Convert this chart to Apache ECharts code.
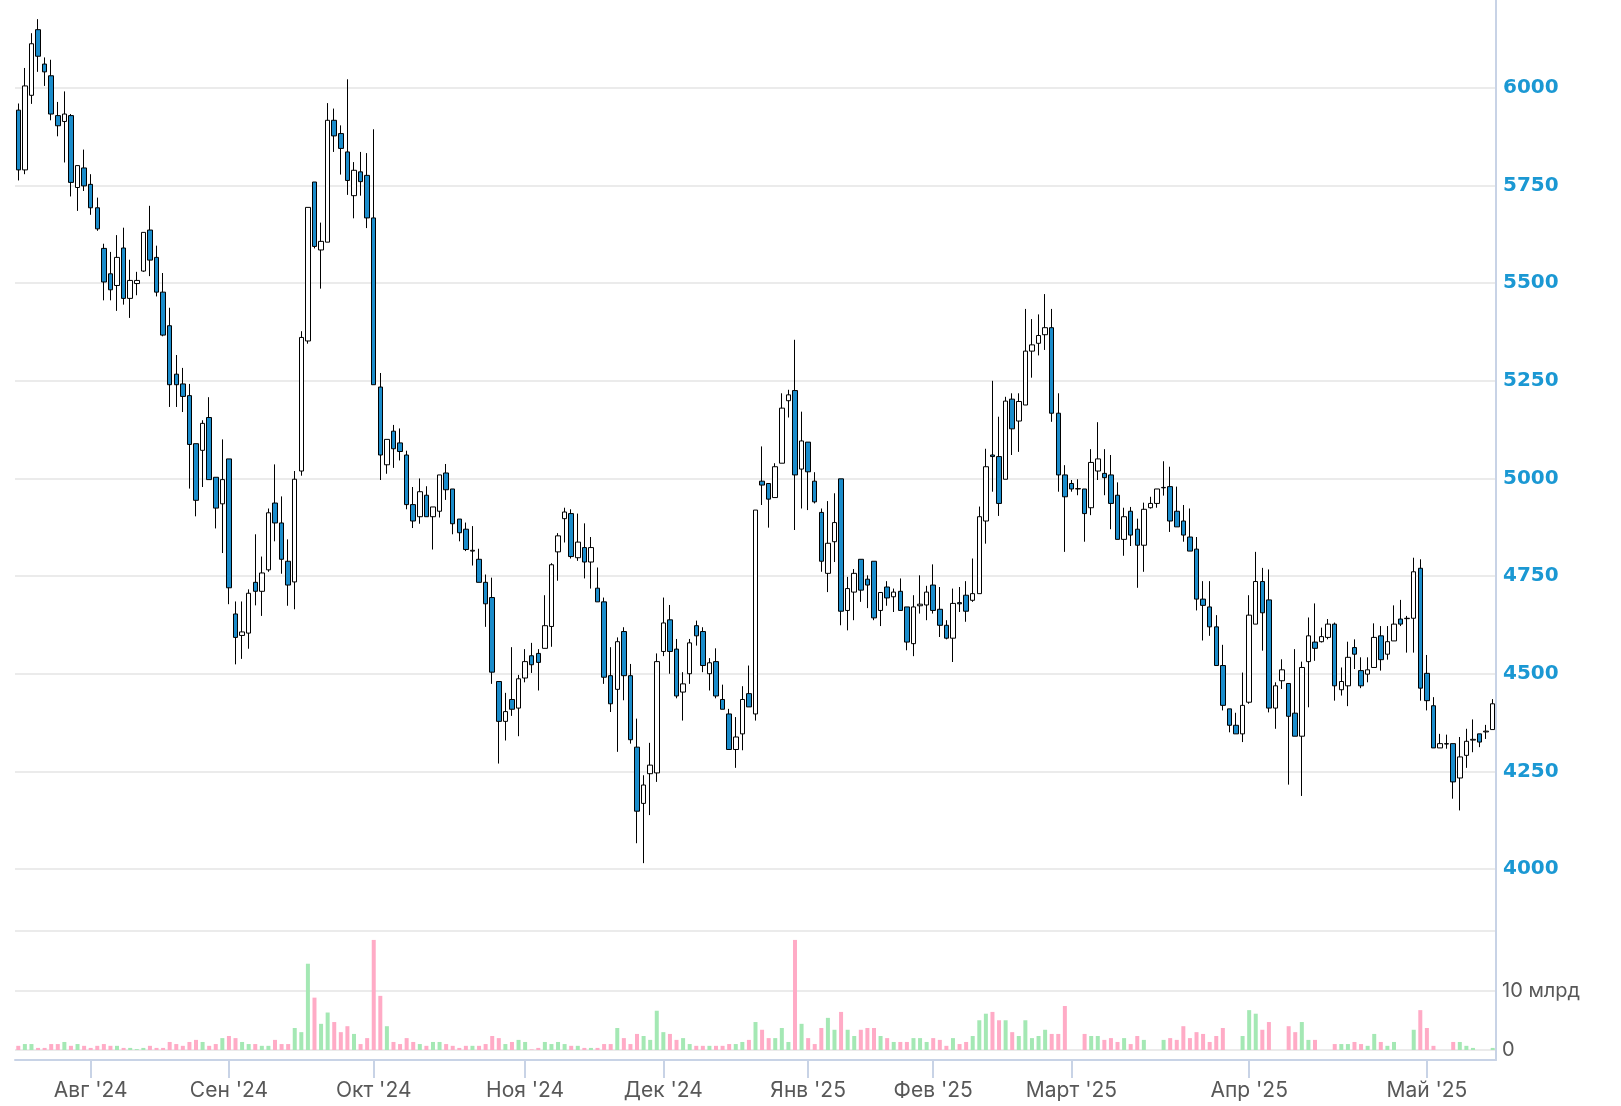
<!DOCTYPE html>
<html>
<head>
<meta charset="utf-8">
<script src="https://cdn.jsdelivr.net/npm/echarts@6/dist/echarts.min.js"></script>
<style>
  html, body { margin: 0; padding: 0; background: #fff; }
  #chart { width: 1621px; height: 1106px; }
</style>
</head>
<body>
<div id="chart"></div>
<script>
// trading days
const dates = [
  '2024-07-17','2024-07-18','2024-07-19','2024-07-22','2024-07-23','2024-07-24','2024-07-25','2024-07-26','2024-07-29','2024-07-30','2024-07-31',
  '2024-08-01','2024-08-02','2024-08-05','2024-08-06','2024-08-07','2024-08-08','2024-08-09','2024-08-12','2024-08-13','2024-08-14','2024-08-15',
  '2024-08-16','2024-08-19','2024-08-20','2024-08-21','2024-08-22','2024-08-23','2024-08-26','2024-08-27','2024-08-28','2024-08-29',
  '2024-09-02','2024-09-03','2024-09-04','2024-09-05','2024-09-06','2024-09-07','2024-09-09','2024-09-10','2024-09-11','2024-09-12','2024-09-13','2024-09-16',
  '2024-09-17','2024-09-18','2024-09-19','2024-09-20','2024-09-23','2024-09-24','2024-09-25','2024-09-26','2024-09-27','2024-09-30',
  '2024-10-01','2024-10-02','2024-10-03','2024-10-04','2024-10-07','2024-10-08','2024-10-09','2024-10-10','2024-10-11','2024-10-14','2024-10-15',
  '2024-10-16','2024-10-17','2024-10-18','2024-10-21','2024-10-22','2024-10-23','2024-10-24','2024-10-25','2024-10-28','2024-10-29','2024-10-30','2024-10-31',
  '2024-11-01','2024-11-02','2024-11-05','2024-11-06','2024-11-07','2024-11-08','2024-11-11','2024-11-12','2024-11-13','2024-11-14','2024-11-15',
  '2024-11-18','2024-11-19','2024-11-20','2024-11-21','2024-11-22','2024-11-25','2024-11-26','2024-11-27','2024-11-28','2024-11-29',
  '2024-12-02','2024-12-03','2024-12-04','2024-12-05','2024-12-06','2024-12-09','2024-12-10','2024-12-11','2024-12-12','2024-12-13','2024-12-16',
  '2024-12-17','2024-12-18','2024-12-19','2024-12-20','2024-12-23','2024-12-24','2024-12-25','2024-12-26','2024-12-27','2024-12-28','2024-12-30',
  '2025-01-03','2025-01-06','2025-01-09','2025-01-10','2025-01-13','2025-01-14','2025-01-15','2025-01-16','2025-01-17',
  '2025-01-20','2025-01-21','2025-01-22','2025-01-23','2025-01-24','2025-01-27','2025-01-28','2025-01-29','2025-01-30','2025-01-31',
  '2025-02-01','2025-02-03','2025-02-04','2025-02-05','2025-02-06','2025-02-07','2025-02-10','2025-02-11','2025-02-12','2025-02-13','2025-02-14',
  '2025-02-17','2025-02-18','2025-02-19','2025-02-20','2025-02-21','2025-02-24','2025-02-25','2025-02-26','2025-02-27','2025-02-28',
  '2025-03-01','2025-03-02','2025-03-03','2025-03-04','2025-03-05','2025-03-06','2025-03-07','2025-03-10','2025-03-11','2025-03-12','2025-03-13',
  '2025-03-14','2025-03-15','2025-03-16','2025-03-17','2025-03-18','2025-03-19','2025-03-20','2025-03-21','2025-03-24','2025-03-25','2025-03-26',
  '2025-03-27','2025-03-28','2025-03-29','2025-03-30','2025-03-31',
  '2025-04-01','2025-04-02','2025-04-03','2025-04-04','2025-04-05','2025-04-06','2025-04-07','2025-04-08','2025-04-09','2025-04-10','2025-04-11',
  '2025-04-12','2025-04-13','2025-04-14','2025-04-15','2025-04-16','2025-04-17','2025-04-18','2025-04-21','2025-04-22','2025-04-23','2025-04-24',
  '2025-04-25','2025-04-26','2025-04-27','2025-04-28','2025-04-29',
  '2025-05-02','2025-05-03','2025-05-04','2025-05-05','2025-05-06','2025-05-07','2025-05-08','2025-05-10','2025-05-11','2025-05-12','2025-05-13'
]

const opens = [
  5943,5790,5981,6149,6061,6031,5929,5914,5929,5745, 5795,5753,5693,5589,5524,5494,5590,5461,5499,5531,
  5636,5566,5477,5391,5267,5242,5212,5089,5072,5156, 5003,4935,5050,4653,4598,4604,4734,4711,4766,4937,
  4886,4788,4735,5019,5352,5759,5585,5605,5917,5883, 5836,5724,5785,5776,5667,5234,5035,5121,5091,5060,
  4933,4902,4957,4902,4916,5014,4973,4896,4870,4814, 4793,4734,4695,4480,4378,4434,4412,4489,4546,4552,
  4565,4621,4812,4897,4910,4797,4823,4786,4719,4684, 4495,4460,4608,4495,4312,4168,4244,4246,4557,4638,
  4563,4453,4500,4623,4608,4500,4531,4434,4397,4306, 4346,4449,4397,4993,4987,4951,5039,5199,5225,5024,
  5093,4993,4913,4757,4838,4999,4662,4709,4793,4742, 4788,4662,4722,4697,4711,4671,4577,4674,4676,4727,
  4665,4624,4591,4682,4701,4688,4705,4891,5060,5056, 4998,5203,5147,5188,5326,5346,5368,5386,5167,5009,
  4987,4973,4973,4925,5019,5013,5009,4957,4844,4916, 4870,4829,4925,4936,4976,4979,4916,4891,4850,4819,
  4691,4671,4620,4521,4410,4368,4346,4427,4627,4736, 4689,4412,4482,4475,4399,4340,4531,4581,4582,4593,
  4627,4459,4469,4567,4508,4499,4516,4597,4550,4584, 4640,4641,4642,4770,4501,4418,4310,4320,4321,4233,
  4291,4330,4346,4351,4357
]
const closes = [
  5790,6005,6113,6081,6041,5933,5903,5933,5758,5801, 5749,5693,5639,5503,5483,5566,5461,5507,5507,5630,
  5559,5477,5367,5240,5240,5210,5087,4944,5141,4997, 4924,4997,4720,4593,4607,4706,4711,4758,4912,4886,
  4793,4727,4998,5361,5694,5594,5607,5917,5877,5845, 5763,5789,5760,5667,5240,5060,5100,5076,5069,4933,
  4891,4966,4902,4927,5009,4971,4884,4861,4818,4816, 4734,4679,4504,4378,4403,4409,4487,4531,4523,4529,
  4623,4779,4853,4914,4800,4837,4786,4823,4684,4491, 4423,4582,4495,4331,4148,4215,4266,4531,4630,4557,
  4443,4474,4579,4597,4521,4528,4443,4409,4306,4338, 4434,4415,4919,4983,4947,5030,5180,5214,5009,5096,
  5017,4940,4788,4834,4887,4660,4718,4757,4714,4727, 4643,4708,4694,4709,4662,4581,4671,4678,4709,4662,
  4624,4591,4680,4679,4660,4705,4902,5030,5056,4936, 5198,5127,5197,5326,5342,5366,5386,5167,5009,4953,
  4973,4974,4910,5041,5050,5002,4936,4844,4902,4855, 4829,4921,4936,4973,4977,4891,4876,4855,4814,4691,
  4675,4620,4521,4419,4368,4346,4419,4650,4736,4656, 4412,4469,4510,4391,4340,4516,4597,4565,4595,4627,
  4469,4480,4542,4550,4469,4510,4593,4536,4582,4627, 4627,4642,4761,4463,4431,4310,4321,4321,4223,4287,
  4327,4332,4325,4353,4423
]
const lows = [
  5763,5779,5959,6041,6005,5917,5876,5809,5722,5685, 5736,5675,5634,5456,5456,5429,5445,5411,5469,5529,
  5518,5466,5364,5183,5183,5170,4974,4903,4978,4997, 4872,4809,4678,4524,4538,4564,4675,4648,4761,4839,
  4756,4674,4665,5007,5345,5589,5486,5605,5836,5778, 5726,5666,5724,5641,5240,4996,5012,5027,5046,4921,
  4873,4884,4902,4818,4900,4945,4857,4839,4814,4777, 4734,4620,4474,4270,4329,4392,4340,4478,4502,4457,
  4565,4569,4738,4836,4795,4789,4744,4718,4684,4474, 4402,4300,4432,4321,4066,4015,4138,4223,4545,4500,
  4437,4380,4474,4572,4504,4457,4437,4409,4306,4259, 4304,4415,4380,4932,4874,4951,5039,5156,4868,4923,
  4919,4936,4761,4709,4786,4624,4611,4637,4684,4668, 4637,4622,4674,4658,4662,4560,4545,4654,4637,4654,
  4594,4588,4530,4658,4633,4684,4705,4833,4966,4904, 4998,5060,5068,5188,5258,5315,5329,5145,4966,4812,
  4966,4957,4838,4906,4996,4957,4870,4844,4802,4827, 4720,4761,4923,4925,4956,4863,4876,4838,4814,4662,
  4585,4597,4521,4406,4350,4346,4325,4423,4627,4559, 4401,4359,4461,4216,4340,4187,4414,4533,4580,4588,
  4431,4444,4417,4512,4463,4478,4516,4508,4536,4584, 4622,4554,4554,4431,4406,4310,4310,4308,4180,4150,
  4259,4299,4312,4333,4357
]
const highs = [
  5960,6051,6140,6176,6078,6072,5964,5991,5933,5801, 5842,5779,5719,5601,5580,5623,5642,5560,5529,5630,
  5698,5596,5526,5437,5316,5283,5242,5089,5149,5208, 5003,5100,5050,4685,4685,4716,4857,4800,4923,5036,
  4954,4844,5019,5377,5694,5759,5655,5961,5947,5904, 6022,5810,5836,5833,5894,5270,5100,5137,5128,5071,
  4978,5000,4980,4927,5009,5037,4973,4896,4887,4878, 4820,4754,4746,4480,4451,4568,4497,4563,4579,4563,
  4701,4783,4860,4925,4921,4910,4885,4850,4772,4695, 4568,4593,4619,4525,4385,4240,4323,4552,4695,4676,
  4589,4504,4589,4636,4619,4540,4565,4472,4410,4389, 4468,4521,4919,5082,4987,5039,5218,5227,5355,5171,
  5093,5016,4923,4942,4962,4999,4748,4768,4793,4752, 4788,4708,4737,4718,4744,4671,4701,4752,4725,4780,
  4722,4637,4718,4722,4737,4795,4928,5076,5250,5158, 5209,5218,5218,5434,5408,5420,5472,5434,5218,5034,
  4996,4998,4973,5075,5144,5075,5060,4990,4925,4927, 4897,4938,4953,4973,5044,5030,4979,4932,4923,4850,
  4737,4737,4650,4574,4410,4400,4503,4701,4812,4771, 4767,4478,4537,4475,4563,4531,4644,4680,4618,4640,
  4631,4516,4582,4588,4542,4542,4629,4622,4622,4675, 4689,4648,4797,4793,4548,4440,4346,4344,4321,4338,
  4359,4383,4346,4369,4435
]
// volume, bn
const volumes = [
  0.7,1.0,1.0,0.35,0.35,1.0,1.0,1.35,0.7,1.0, 0.7,0.35,0.7,1.0,0.7,0.7,0.35,0.35,0.15,0.35,
  0.7,0.35,0.35,1.35,1.0,0.7,1.35,1.7,1.35,0.7, 1.0,2.0,2.35,2.0,1.35,1.0,1.0,0.7,0.7,1.7,
  1.0,1.0,3.7,3.0,14.5,8.8,4.4,6.3,4.7,3.0, 4.0,2.7,1.0,2.0,18.5,9.1,4.0,1.35,1.0,2.0,
  1.35,1.0,0.7,1.35,1.35,1.0,0.7,0.35,0.7,0.7, 0.7,1.0,2.35,2.0,1.0,1.35,1.7,1.35,0.1,0.35,
  1.35,1.0,1.35,1.0,0.7,0.7,0.35,0.35,0.35,1.0, 1.0,3.7,2.0,1.0,2.7,2.35,1.7,6.6,3.0,2.7,
  1.7,2.0,1.0,0.7,0.7,0.7,0.7,0.7,1.0,1.0, 1.35,1.7,4.7,3.4,2.0,2.0,3.7,1.35,18.5,4.4,
  2.0,1.0,3.7,5.4,3.4,6.4,3.4,2.35,3.4,3.7, 3.7,2.35,2.0,1.35,1.35,1.35,2.0,2.0,1.35,2.0,
  1.7,0.7,2.0,1.0,1.35,2.35,5.0,6.1,6.4,5.0, 5.0,3.0,2.35,5.0,2.0,2.35,3.4,2.7,2.7,7.4,
  0,0,2.7,2.35,2.35,1.7,2.0,1.35,2.0,1.0, 2.35,1.7,0,0,1.7,2.0,1.7,4.0,2.0,3.0,
  2.7,1.35,2.35,3.7,0,0,2.35,6.7,6.1,3.4, 4.7,0,0,4.0,3.0,4.7,1.7,1.7,0,0,
  1.0,1.0,1.0,1.35,1.0,0.7,2.7,1.35,0.7,1.35, 0,0,3.4,6.7,3.7,0.7,0,0,1.35,1.35,
  0.7,0.35,0,0,0.35
]
const priceTicks = [4000, 6225, 250]
const volumeTicks = [0, 20, 10]
const monthNames = ['Янв', 'Фев', 'Март', 'Апр', 'Май', 'Июнь', 'Июль', 'Авг', 'Сен', 'Окт', 'Ноя', 'Дек']

const candles = dates.map((d, i) => [opens[i], closes[i], lows[i], highs[i]])
const volumeBars = volumes.map((v, i) => ({
  value: v,
  itemStyle: { color: closes[i] >= opens[i] ? '#a4e8b4' : '#ffabc6' }
}))

// tick and label only on the first trading day of a month
function monthStart (index) {
  return index > 0 && dates[index].slice(0, 7) !== dates[index - 1].slice(0, 7)
}

const axisBlue = '#c8d3e6'
const gridGray = '#e4e4e4'

const chart = echarts.init(document.getElementById('chart'))
chart.setOption({
  animation: false,
  grid: [
    { left: 15, right: 125, top: 0, height: 869 },
    { left: 15, right: 125, top: 931, height: 119 },
    { left: 15, right: 125, top: 0, bottom: 46 }
  ],
  xAxis: [
    {
      type: 'category',
      gridIndex: 0,
      data: dates,
      axisLine: { show: false },
      axisTick: { show: false },
      axisLabel: { show: false }
    },
    {
      type: 'category',
      gridIndex: 1,
      data: dates,
      offset: 10,
      axisLine: { show: true, onZero: false, lineStyle: { color: axisBlue, width: 2 } },
      axisTick: {
        show: true,
        alignWithLabel: true,
        interval: monthStart,
        length: 18,
        lineStyle: { color: axisBlue, width: 2 }
      },
      axisLabel: {
        interval: monthStart,
        margin: 20,
        color: '#585858',
        fontSize: 21,
        fontFamily: 'Inter',
        formatter: (value) => monthNames[+value.slice(5, 7) - 1] + " '" + value.slice(2, 4)
      }
    },
    { type: 'value', gridIndex: 2, show: false, min: 0, max: 1 }
  ],
  yAxis: [
    {
      type: 'value',
      gridIndex: 0,
      position: 'right',
      min: priceTicks[0],
      max: priceTicks[1],
      interval: priceTicks[2],
      axisLine: { show: false },
      axisTick: { show: false },
      splitLine: { showMaxLine: false, lineStyle: { color: gridGray, width: 1.5 } },
      axisLabel: {
        showMaxLabel: false,
        margin: 7,
        color: '#1b98d3',
        fontSize: 20,
        fontWeight: 'bold',
        fontFamily: 'DejaVu Sans',
        formatter: (v) => String(v)
      }
    },
    {
      type: 'value',
      gridIndex: 1,
      position: 'right',
      min: volumeTicks[0],
      max: volumeTicks[1],
      interval: volumeTicks[2],
      axisLine: { show: false },
      axisTick: { show: false },
      splitLine: { lineStyle: { color: gridGray, width: 1.5 } },
      axisLabel: {
        margin: 6,
        color: '#585858',
        fontSize: 20,
        fontFamily: 'Inter',
        formatter: (v) => v === 0 ? '0' : v === 10 ? '10 млрд' : ''
      }
    },
    {
      // long vertical rule on the right
      type: 'value',
      gridIndex: 2,
      position: 'right',
      min: 0,
      max: 1,
      axisLine: { show: true, onZero: false, lineStyle: { color: axisBlue, width: 2 } },
      axisTick: { show: false },
      axisLabel: { show: false },
      splitLine: { show: false }
    }
  ],
  series: [
    {
      type: 'candlestick',
      xAxisIndex: 0,
      yAxisIndex: 0,
      data: candles,
      barWidth: 5,
      itemStyle: {
        color: '#ffffff',
        color0: '#1a8ccb',
        borderColor: '#000',
        borderColor0: '#000',
        borderColorDoji: '#000',
        borderWidth: 1
      }
    },
    {
      type: 'bar',
      xAxisIndex: 1,
      yAxisIndex: 1,
      data: volumeBars,
      barWidth: 4
    }
  ]
})
</script>
</body>
</html>
